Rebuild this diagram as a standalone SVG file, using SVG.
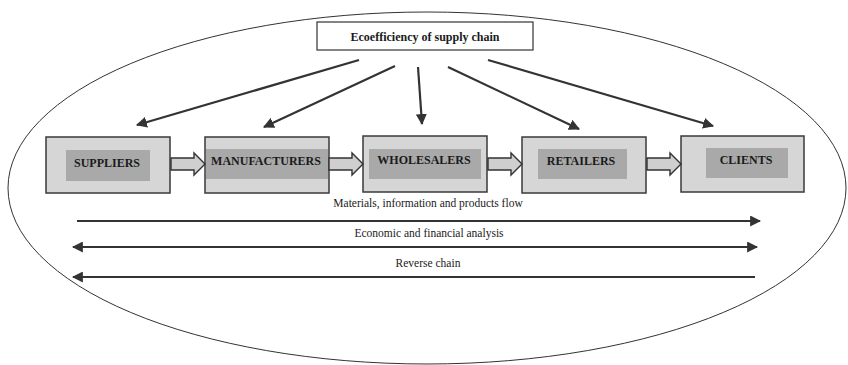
<svg xmlns="http://www.w3.org/2000/svg" width="848" height="365" viewBox="0 0 848 365">
  <style>
    .frame { fill: none; stroke: #333; stroke-width: 1; }
    .outer { fill: #d6d6d6; stroke: #3a3a3a; stroke-width: 1.5; }
    .inner { fill: #a9a9a9; stroke: none; }
    .label { font-family: "Liberation Serif", "Times New Roman", serif; font-weight: bold; font-size: 12px; fill: #1a1a1a; text-anchor: middle; }
    .flowtext { font-family: "Liberation Serif", "Times New Roman", serif; font-size: 11.5px; fill: #1a1a1a; text-anchor: middle; }
    .link { stroke: #333; stroke-width: 2.2; fill: none; }
    .fat { fill: #cfcfcf; stroke: #333; stroke-width: 1.4; stroke-linejoin: miter; }
  </style>
  <defs>
    <marker id="head" viewBox="0 0 10 10" refX="9" refY="5" markerWidth="5" markerHeight="5" orient="auto-start-reverse" markerUnits="strokeWidth">
      <path d="M0,0 L10,5 L0,10 Z" fill="#333"/>
    </marker>
    <path id="fatArrow" class="fat" d="M0,-6 H23 V-11 L34,0 L23,11 V6 H0 Z"/>
  </defs>

  <rect width="848" height="365" fill="#ffffff"/>

  <!-- enclosing ellipse -->
  <ellipse class="frame" cx="427" cy="188" rx="419" ry="176"/>

  <!-- title box -->
  <g id="ecoefficiency">
    <rect x="317" y="22" width="216" height="28" fill="#ffffff" stroke="#333" stroke-width="1.2"/>
    <text class="label" x="425" y="40.5">Ecoefficiency of supply chain</text>
  </g>

  <!-- supply chain stages -->
  <g id="suppliers">
    <rect class="outer" x="46" y="137" width="124" height="56"/>
    <rect class="inner" x="66" y="150" width="84" height="31"/>
    <text class="label" x="107" y="167">SUPPLIERS</text>
  </g>
  <g id="manufacturers">
    <rect class="outer" x="205" y="137" width="124" height="56"/>
    <rect class="inner" x="206" y="149" width="122" height="30"/>
    <text class="label" x="266" y="165">MANUFACTURERS</text>
  </g>
  <g id="wholesalers">
    <rect class="outer" x="363" y="136" width="124" height="56"/>
    <rect class="inner" x="369" y="149" width="112" height="30"/>
    <text class="label" x="424" y="164">WHOLESALERS</text>
  </g>
  <g id="retailers">
    <rect class="outer" x="522" y="137" width="124" height="56"/>
    <rect class="inner" x="538" y="149" width="89" height="30"/>
    <text class="label" x="581" y="165">RETAILERS</text>
  </g>
  <g id="clients">
    <rect class="outer" x="681" y="136" width="123" height="56"/>
    <rect class="inner" x="706" y="148" width="82" height="30"/>
    <text class="label" x="746" y="164">CLIENTS</text>
  </g>

  <!-- connectors -->
  <g id="connectors">
    <line class="link" x1="359" y1="60" x2="137" y2="125" marker-end="url(#head)"/>
    <line class="link" x1="395" y1="66" x2="264" y2="127" marker-end="url(#head)"/>
    <line class="link" x1="418" y1="67" x2="422" y2="124" marker-end="url(#head)"/>
    <line class="link" x1="448" y1="67" x2="579" y2="129" marker-end="url(#head)"/>
    <line class="link" x1="488" y1="60" x2="713" y2="126" marker-end="url(#head)"/>

    <use href="#fatArrow" x="171" y="164"/>
    <use href="#fatArrow" x="329" y="164"/>
    <use href="#fatArrow" x="488" y="164"/>
    <use href="#fatArrow" x="647" y="164"/>

    <line class="link" x1="77" y1="221" x2="760" y2="221" marker-end="url(#head)"/>
    <line class="link" x1="73" y1="247" x2="757" y2="247" marker-start="url(#head)" marker-end="url(#head)"/>
    <line class="link" x1="73" y1="277" x2="755" y2="277" marker-start="url(#head)"/>
  </g>

  <!-- flow labels -->
  <text class="flowtext" x="428" y="207">Materials, information and products flow</text>
  <text class="flowtext" x="429" y="237">Economic and financial analysis</text>
  <text class="flowtext" x="428" y="267">Reverse chain</text>
</svg>
